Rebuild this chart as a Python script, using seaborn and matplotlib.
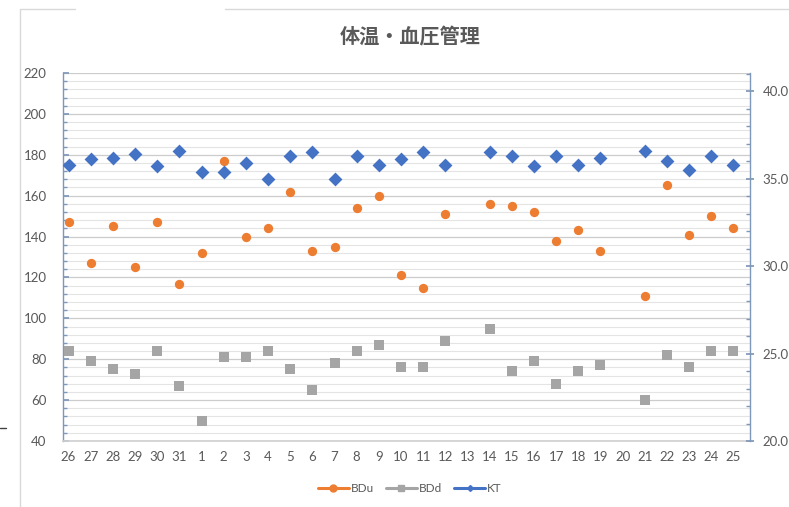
import numpy as np
import pandas as pd
import matplotlib
matplotlib.use("Agg")
import matplotlib.pyplot as plt
from matplotlib.lines import Line2D
from matplotlib.ticker import MultipleLocator, FormatStrFormatter
import seaborn as sns

# ---- data ----
days = ['26', '27', '28', '29', '30', '31', '1', '2', '3', '4', '5', '6', '7', '8', '9',
        '10', '11', '12', '13', '14', '15', '16', '17', '18', '19', '20', '21', '22', '23', '24', '25']
bdu = [147, 127, 145, 125, 147, 117, 132, 177, 140, 144, 162, 133, 135, 154, 160,
       121, 115, 151, np.nan, 156, 155, 152, 138, 143, 133, np.nan, 111, 165, 141, 150, 144]
bdd = [84, 79, 75, 73, 84, 67, 50, 81, 81, 84, 75, 65, 78, 84, 87,
       76, 76, 89, np.nan, 95, 74, 79, 68, 74, 77, np.nan, 60, 82, 76, 84, 84]
kt = [35.8, 36.1, 36.2, 36.4, 35.7, 36.6, 35.4, 35.4, 35.9, 35.0, 36.3, 36.5, 35.0, 36.3, 35.8,
      36.1, 36.5, 35.8, np.nan, 36.5, 36.3, 35.7, 36.3, 35.8, 36.2, np.nan, 36.6, 36.0, 35.5, 36.3, 35.8]
title = "体温・血圧管理"

C_BDU = "#ed7d31"
C_BDD = "#a5a5a5"
C_KT = "#4472c4"
TXT = "#595959"
AXC = "#7f97b8"

sns.set_theme(style="white")
plt.rcParams['font.family'] = ['Lato', 'Noto Sans CJK JP', 'DejaVu Sans']

df = pd.DataFrame({"pos": np.arange(len(days)), "day": days, "BDu": bdu, "BDd": bdd, "KT": kt})

fig = plt.figure(figsize=(7.89, 5.07), dpi=100)
ax = fig.add_axes([63.3 / 789, 1 - 441 / 507, (750 - 63.3) / 789, (441 - 73) / 507])
ax2 = ax.twinx()

# left axis gridlines
ax.set_ylim(40, 220)
ax.yaxis.set_major_locator(MultipleLocator(20))
ax.yaxis.set_minor_locator(MultipleLocator(4))
ax.grid(which='major', axis='y', color='#cccccc', linewidth=0.9)
ax.grid(which='minor', axis='y', color='#e4e4e4', linewidth=0.8)
ax.grid(which='major', axis='x', visible=False)
ax.set_axisbelow(True)

sns.scatterplot(data=df, x="pos", y="BDu", ax=ax, marker='o', s=45, color=C_BDU,
                edgecolor=C_BDU, linewidth=0, zorder=3)
sns.scatterplot(data=df, x="pos", y="BDd", ax=ax, marker='s', s=45, color=C_BDD,
                edgecolor=C_BDD, linewidth=0, zorder=3)
sns.scatterplot(data=df, x="pos", y="KT", ax=ax2, marker='D', s=50, color=C_KT,
                edgecolor=C_KT, linewidth=0, zorder=3)

ax.set_xlim(-0.24, 30.75)
ax2.set_xlim(-0.24, 30.75)
ax2.set_ylim(20, 41.03)
ax2.yaxis.set_major_locator(MultipleLocator(5))
ax2.yaxis.set_minor_locator(MultipleLocator(1))
ax2.yaxis.set_major_formatter(FormatStrFormatter('%.1f'))
ax2.grid(False)

ax.set_xticks(df["pos"])
ax.set_xticklabels(days)
ax.set_xlabel("")
ax.set_ylabel("")
ax2.set_ylabel("")

for a in (ax, ax2):
    for s in a.spines.values():
        s.set_visible(False)
ax.spines['left'].set_visible(True)
ax.spines['left'].set_color(AXC)
ax.spines['left'].set_linewidth(1.0)
ax.spines['bottom'].set_visible(True)
ax.spines['bottom'].set_color('#d0d0d0')
ax2.spines['right'].set_visible(True)
ax2.spines['right'].set_color(AXC)
ax2.spines['right'].set_linewidth(1.0)

ax.tick_params(axis='y', which='major', direction='in', length=4, color=AXC, labelsize=9.5,
               labelcolor=TXT, left=True, pad=12)
ax.tick_params(axis='y', which='minor', direction='in', length=3, color=AXC, left=True)
ax.tick_params(axis='x', which='both', length=0, labelsize=9.5, labelcolor=TXT, pad=7)
ax2.tick_params(axis='y', which='major', direction='inout', length=6, color=AXC, labelsize=9.5,
                labelcolor=TXT, right=True, pad=6)
ax2.tick_params(axis='y', which='minor', direction='in', length=3, color=AXC, right=True)

if ax.get_legend():
    ax.get_legend().remove()
if ax2.get_legend():
    ax2.get_legend().remove()

fig.text(410 / 789, 1 - 37 / 507, title, ha='center', va='center', fontsize=14.5,
         fontweight='bold', color=TXT, family=['Noto Sans CJK JP', 'DejaVu Sans'])

handles = [
    Line2D([0], [0], color=C_BDU, lw=2.2, marker='o', markersize=5),
    Line2D([0], [0], color=C_BDD, lw=2.2, marker='s', markersize=5),
    Line2D([0], [0], color=C_KT, lw=2.2, marker='D', markersize=3),
]
fig.legend(handles, ["BDu", "BDd", "KT"], loc='center', bbox_to_anchor=(410 / 789, 1 - 489 / 507),
           ncol=3, frameon=False, fontsize=8.5, handlelength=2.6, handletextpad=0.2,
           columnspacing=1.0, labelcolor=TXT)

# chart-area border fragments
bc = '#d9d9d9'
fig.add_artist(Line2D([20 / 789, 75 / 789], [1 - 9 / 507, 1 - 9 / 507], color=bc, lw=1))
fig.add_artist(Line2D([225 / 789, 1.0], [1 - 9 / 507, 1 - 9 / 507], color=bc, lw=1))
fig.add_artist(Line2D([20 / 789, 20 / 789], [0, 1 - 9 / 507], color=bc, lw=1))
fig.add_artist(Line2D([0, 6 / 789], [1 - 428 / 507, 1 - 428 / 507], color='#404040', lw=1))

fig.savefig("out.png", dpi=100)
